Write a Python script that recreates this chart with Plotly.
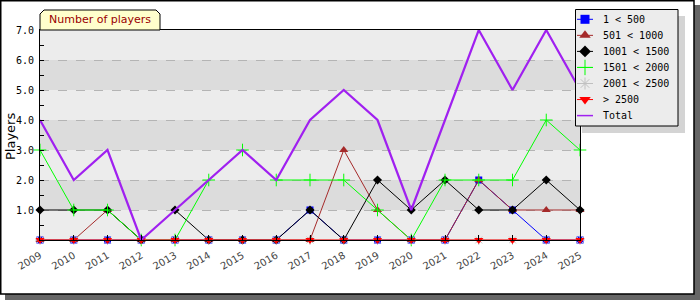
import plotly.graph_objects as go

years = list(range(2009, 2026))
total = [4, 2, 3, 0, 1, 2, 3, 2, 4, 5, 4, 1, 4, 7, 5, 7, 5]
s_1_500 = [0, 0, 0, 0, 0, 0, 0, 0, 1, 0, 0, 0, 0, 2, 1, 0, 0]
s_501_1000 = [0, 0, 1, 0, 0, 0, 0, 0, 0, 3, 1, 0, 0, 2, 1, 1, 1]
s_1001_1500 = [1, 1, 1, 0, 1, 0, 0, 0, 1, 0, 2, 1, 2, 1, 1, 2, 1]
s_1501_2000 = [3, 1, 1, 0, 0, 2, 3, 2, 2, 2, 1, 0, 2, 2, 2, 4, 3]
s_2001_2500 = [0] * 17
s_2500_plus = [0] * 17
y_ticks = [1, 2, 3, 4, 5, 6, 7]
y_tick_text = ["1.0", "2.0", "3.0", "4.0", "5.0", "6.0", "7.0"]
series_names = ["1 < 500", "501 < 1000", "1001 < 1500", "1501 < 2000", "2001 < 2500", "> 2500", "Total"]

W, H = 700, 300
def P(x):
    return x / W
def Q(y):
    return 1 - y / H

styles = [
    ("#0000ff", "square", 7, None),
    ("#a52a2a", "triangle-up", 8, None),
    ("#000000", "diamond", 7, None),
    ("#00ff00", "cross-thin-open", 9, 1),
    ("#c0c0c0", "asterisk-open", 8, 1),
    ("#ff0000", "triangle-down", 8, None),
]
data_series = [s_1_500, s_501_1000, s_1001_1500, s_1501_2000, s_2001_2500, s_2500_plus]

fig = go.Figure()
for name, vals, (col, sym, sz, lw) in zip(series_names, data_series, styles):
    mk = dict(symbol=sym, size=sz, color=col)
    if lw:
        mk["line"] = dict(color=col, width=lw)
    fig.add_trace(go.Scatter(x=years, y=vals, name=name, mode="lines+markers",
                             line=dict(color=col, width=1), marker=mk, cliponaxis=False,
                             showlegend=False))
fig.add_trace(go.Scatter(x=years, y=total, name="Total", mode="lines",
                         line=dict(color="#a020f0", width=2.2), cliponaxis=False, showlegend=False))

# ---- custom legend on its own small axes (pixel units) ----
row0, rowstep = 19.3, 16.05
for i, name in enumerate(series_names):
    yc = row0 + rowstep * i
    if i < len(styles):
        col, sym, sz, lw = styles[i]
        fig.add_trace(go.Scatter(x=[577, 593], y=[yc, yc], mode="lines", line=dict(color=col, width=1),
                                 xaxis="x2", yaxis="y2", showlegend=False, hoverinfo="skip"))
        mk = dict(symbol=sym, size=sz + 2, color=col)
        if lw:
            mk["line"] = dict(color=col, width=lw)
        fig.add_trace(go.Scatter(x=[585], y=[yc], mode="markers", marker=mk,
                                 xaxis="x2", yaxis="y2", showlegend=False, hoverinfo="skip"))
    else:
        fig.add_trace(go.Scatter(x=[577, 593], y=[yc, yc], mode="lines", line=dict(color="#a020f0", width=1.5),
                                 xaxis="x2", yaxis="y2", showlegend=False, hoverinfo="skip"))

shapes = []
# outer shadow + frame
shapes.append(dict(type="rect", xref="paper", yref="paper", x0=P(5), x1=P(700), y0=Q(300), y1=Q(5),
                   fillcolor="#666666", line=dict(width=0), layer="below"))
shapes.append(dict(type="rect", xref="paper", yref="paper", x0=P(0.75), x1=P(694), y0=Q(294), y1=Q(0.75),
                   fillcolor="#ffffff", line=dict(color="#000000", width=1.5), layer="below"))
# background bands
for i in range(7):
    shapes.append(dict(type="rect", xref="x domain", yref="y domain", x0=0, x1=1, y0=i / 7, y1=(i + 1) / 7,
                       fillcolor="#ececec" if i % 2 == 0 else "#dcdcdc", line=dict(width=0), layer="below"))
# title tab
c = 4
path = (f"M {P(40)},{Q(30)} L {P(40)},{Q(10 + c)} L {P(40 + c)},{Q(10)} L {P(160 - c)},{Q(10)} "
        f"L {P(160)},{Q(10 + c)} L {P(160)},{Q(30)} Z")
shapes.append(dict(type="path", xref="paper", yref="paper", path=path, fillcolor="#ffffcc",
                   line=dict(color="#000000", width=1), layer="above"))
# legend shadow and box (in legend axes)
shapes.append(dict(type="rect", xref="x2", yref="y2", x0=582, x1=685, y0=16, y1=133,
                   fillcolor="#d4d4d4", line=dict(width=0), layer="below"))
shapes.append(dict(type="rect", xref="x2", yref="y2", x0=575.5, x1=678, y0=9.5, y1=126,
                   fillcolor="#ececec", line=dict(color="#000000", width=1), layer="below"))

annotations = [
    dict(text="Number of players", xref="paper", yref="paper", x=P(100), y=Q(20),
         showarrow=False, font=dict(family="DejaVu Sans", size=11, color="#990000"),
         xanchor="center", yanchor="middle"),
    dict(text="Players", xref="paper", yref="paper", x=P(10), y=Q(137), textangle=-90,
         showarrow=False, font=dict(family="DejaVu Sans", size=13, color="#000000"),
         xanchor="center", yanchor="middle"),
]
for i, name in enumerate(series_names):
    annotations.append(dict(text=name.replace("<", "&lt;").replace(">", "&gt;"), xref="x2", yref="y2",
                            x=601, y=row0 + rowstep * i, showarrow=False, xanchor="left", yanchor="middle",
                            font=dict(family="DejaVu Sans Mono", size=10, color="#000000")))

fig.update_layout(
    width=W, height=H,
    margin=dict(l=0, r=0, t=0, b=0, autoexpand=False),
    paper_bgcolor="#ffffff", plot_bgcolor="rgba(0,0,0,0)",
    shapes=shapes, annotations=annotations, showlegend=False,
    xaxis=dict(domain=[P(40), P(580)], range=[2009, 2025], tickvals=years, tickangle=-30,
               tickfont=dict(family="DejaVu Sans", size=10, color="#444444"), automargin=False,
               showgrid=False, zeroline=False, showline=True, linecolor="#000000", linewidth=1,
               mirror=True, ticks="inside", ticklen=5, tickcolor="#000000", ticklabelstandoff=5),
    yaxis=dict(domain=[Q(240), Q(30)], range=[0, 7], tickvals=y_ticks, ticktext=y_tick_text,
               tickfont=dict(family="DejaVu Sans Mono", size=10, color="#000000"), automargin=False,
               showgrid=True, gridcolor="#b4b4b4", griddash="dash", gridwidth=1,
               zeroline=False, showline=True, linecolor="#000000", linewidth=1, mirror=True,
               ticks="inside", ticklen=4, tickcolor="#000000", ticklabelstandoff=3,
               minor=dict(tickvals=[0.5, 1.5, 2.5, 3.5, 4.5, 5.5, 6.5], ticks="inside", ticklen=4,
                          tickcolor="#000000", showgrid=False)),
    xaxis2=dict(domain=[P(575), P(686)], range=[575, 686], visible=False, fixedrange=True, automargin=False),
    yaxis2=dict(domain=[Q(134), Q(9)], range=[134, 9], visible=False, fixedrange=True, automargin=False),
)

fig.write_html("out.html")
